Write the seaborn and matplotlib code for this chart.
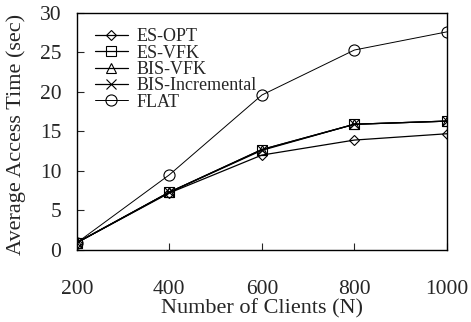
import matplotlib
matplotlib.use("Agg")
import matplotlib.pyplot as plt
import seaborn as sns
import pandas as pd

clients = [200, 400, 600, 800, 1000]
es_opt = [0.9, 7.2, 12.0, 13.9, 14.7]
es_vfk = [0.9, 7.3, 12.7, 15.9, 16.3]
bis_vfk = [0.9, 7.3, 12.6, 15.9, 16.3]
bis_inc = [0.9, 7.3, 12.7, 15.9, 16.3]
flat = [0.9, 9.5, 19.6, 25.3, 27.6]
series_names = ["ES-OPT", "ES-VFK", "BIS-VFK", "BIS-Incremental", "FLAT"]
series_vals = [es_opt, es_vfk, bis_vfk, bis_inc, flat]
markers = ["D", "s", "^", "x", "o"]
msizes = [5.5, 7, 7, 7, 8]

rows = []
for n, vals in zip(series_names, series_vals):
    for c, v in zip(clients, vals):
        rows.append({"Clients": c, "Time": v, "Series": n})
df = pd.DataFrame(rows)

sns.set_theme(style="ticks")
plt.rcParams["font.family"] = ["Liberation Serif", "DejaVu Serif"]
plt.rcParams["font.size"] = 13

fig, ax = plt.subplots(figsize=(4.71, 3.22), dpi=100)
fig.subplots_adjust(left=0.163, right=0.949, top=0.96, bottom=0.224)

for n, m, ms in zip(series_names, markers, msizes):
    sub = df[df["Series"] == n]
    sns.lineplot(data=sub, x="Clients", y="Time", ax=ax, color="black",
                 marker=m, markersize=ms, markerfacecolor="none",
                 markeredgecolor="black", markeredgewidth=0.8,
                 linewidth=0.9 if n != "FLAT" else 0.7, label=n)

ax.set_xlim(200, 1000)
ax.set_ylim(0, 30)
ax.set_xticks(clients)
ax.set_yticks([0, 5, 10, 15, 20, 25, 30])
ax.tick_params(direction="in", length=5, width=0.8, labelsize=15.5,
               top=False, right=False)
ax.tick_params(axis="x", pad=22)
ax.tick_params(axis="y", pad=11)
for s in ax.spines.values():
    s.set_linewidth(1.0)
    s.set_color("black")
ax.set_xlabel("Number of Clients (N)", fontsize=16, labelpad=0)
ax.set_ylabel("Average Access Time (sec)", fontsize=16)
ax.yaxis.set_label_coords(-0.138, 0.485)
leg = ax.legend(loc="upper left", frameon=False, fontsize=13,
                labelspacing=-0.04, handlelength=1.8, handletextpad=0.5,
                borderaxespad=0.2, bbox_to_anchor=(0.02, 0.98))
fig.savefig("out.png", dpi=100)
